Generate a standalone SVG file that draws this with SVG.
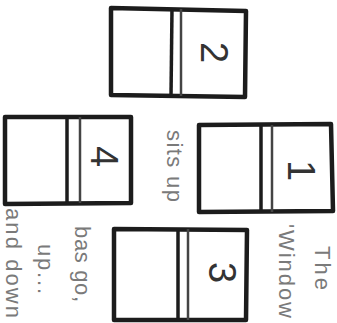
<svg xmlns="http://www.w3.org/2000/svg" width="337" height="323" viewBox="0 0 337 323">
<style>
.frame{fill:#fff;stroke:#1c1c1c;stroke-width:4.5;stroke-linejoin:round}
.div{stroke:#1c1c1c;stroke-width:3.5;fill:none}
.divs{stroke:#444;stroke-width:2.5;fill:none}
.num{font-family:"Liberation Sans",Arial,sans-serif;font-size:38px;fill:#333}
.note{font-family:"Liberation Sans",Arial,sans-serif;font-size:22px;fill:#7a7a7a}
</style>
<rect width="337" height="323" fill="#fff"/>
<g id="panel-2">
<polygon class="frame" points="111,8 246,11 245,97 111,95"/>
<line class="div" x1="172" y1="9" x2="171" y2="96"/>
<line class="divs" x1="181" y1="9" x2="181" y2="96"/>
<text class="num" transform="translate(201,42) rotate(90)">2</text>
</g>
<g id="panel-4">
<polygon class="frame" points="5,117 131,117 131,203 5,204"/>
<line class="div" x1="67" y1="117" x2="67" y2="203"/>
<line class="divs" x1="80" y1="117" x2="80" y2="203"/>
<text class="num" transform="translate(91,146) rotate(90)">4</text>
</g>
<g id="panel-1">
<polygon class="frame" points="199,125 331,124 333,211 199,212"/>
<line class="div" x1="261" y1="125" x2="261" y2="212"/>
<line class="divs" x1="272" y1="125" x2="272" y2="212"/>
<text class="num" transform="translate(288,160) rotate(90)">1</text>
</g>
<g id="panel-3">
<polygon class="frame" points="114,229 247,230 246,320 114,320"/>
<line class="div" x1="178" y1="229" x2="178" y2="320"/>
<line class="divs" x1="188" y1="229" x2="188" y2="320"/>
<text class="num" transform="translate(209,262) rotate(90)">3</text>
</g>
<g id="labels">
<text class="note" transform="translate(315,246) rotate(90)" textLength="44">The</text>
<text class="note" transform="translate(279,224) rotate(90)" textLength="94">'Window</text>
<text class="note" transform="translate(167,130) rotate(90)" textLength="72">sits up</text>
<text class="note" transform="translate(75,226) rotate(90)" textLength="76">bas go,</text>
<text class="note" transform="translate(38,244) rotate(90)" textLength="50">up...</text>
<text class="note" transform="translate(6,208) rotate(90)" textLength="110">and down</text>
</g>
<g id="connectors"></g>
</svg>
